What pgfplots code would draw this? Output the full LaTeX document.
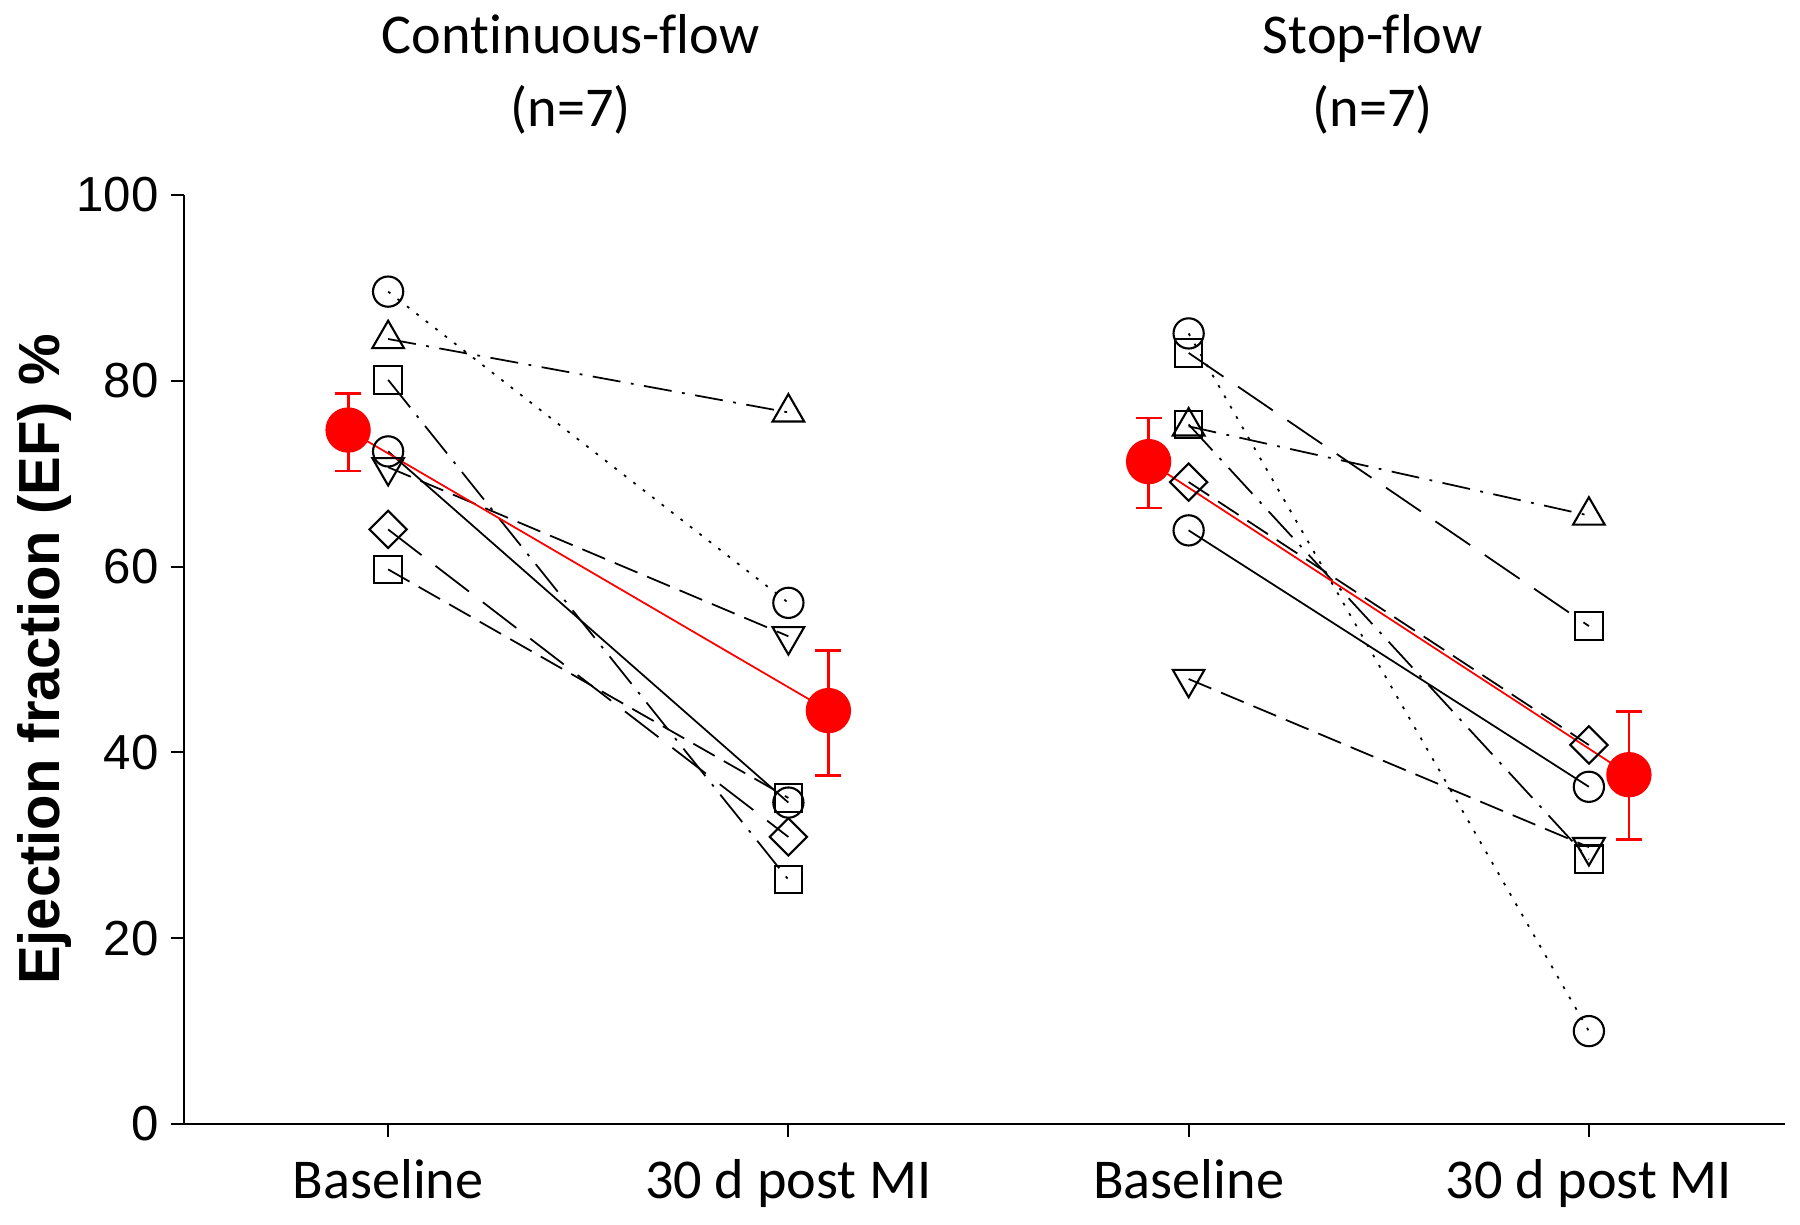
\documentclass[border=0pt]{standalone}
\usepackage{pgfplots}
\pgfplotsset{compat=1.18}
\usepackage{fontspec}
\setmainfont{Liberation Sans}
\newfontfamily\calib[Ligatures=NoCommon]{Carlito}

\pgfplotsset{
  ind/.style={black, line width=0.5pt},
  mo/.style={mark=o, mark size=4.3pt, mark options={solid, line width=0.6pt}},
  ms/.style={mark=square, mark size=3.9pt, mark options={solid, line width=0.6pt}},
  mt/.style={mark=triangle, mark size=5.2pt, mark options={solid, line width=0.6pt}},
  mv/.style={mark=triangle, mark size=5.2pt, mark options={solid, rotate=180, line width=0.6pt}},
  md/.style={mark=square, mark size=3.75pt, mark options={solid, rotate=45, line width=0.6pt}},
  ldot/.style={dash pattern=on 0.8pt off 2.6pt},
  ldd/.style={dash pattern=on 8pt off 3pt on 0.8pt off 3pt},
  ldd2/.style={dash pattern=on 10pt off 3pt on 0.8pt off 3pt},
  ldash/.style={dash pattern=on 7pt off 3pt},
  llong/.style={dash pattern=on 12pt off 5pt},
}

\begin{document}
\begin{tikzpicture}
\begin{axis}[
    scale only axis,
    width=16.01cm, height=9.29cm,
    xmin=0.49, xmax=4.49,
    ymin=0, ymax=100,
    axis x line*=bottom, axis y line*=left,
    axis line style={line width=0.8pt},
    every tick/.style={black, line width=0.6pt},
    tick align=outside,
    major tick length=0.13cm,
    xtick={1,2,3,4},
    xticklabels={Baseline,30 d post MI,Baseline,30 d post MI},
    xticklabel style={font=\calib\fontsize{16}{19}\selectfont, yshift=-0.1cm},
    ytick={0,20,40,60,80,100},
    yticklabel style={font=\fontsize{14}{16}\selectfont},
    /pgf/number format/assume math mode=true,
    ylabel={Ejection fraction (EF) \%},
    ylabel style={font=\bfseries\fontsize{16.5}{19}\selectfont,
                  at={(axis description cs:-0.087,0.5)}, anchor=center},
    clip=false,
]

% Continuous-flow, individual animals
\addplot[ind, ldot, mo]   coordinates {(1,89.6) (2,56.1)};
\addplot[ind, ldd, mt]    coordinates {(1,84.5) (2,76.6)};
\addplot[ind, ldd2, ms]   coordinates {(1,80.1) (2,26.3)};
\addplot[ind, solid, mo]  coordinates {(1,72.4) (2,34.6)};
\addplot[ind, ldash, mv]  coordinates {(1,70.7) (2,52.5)};
\addplot[ind, llong, md]  coordinates {(1,64.0) (2,30.9)};
\addplot[ind, ldash, ms]  coordinates {(1,59.7) (2,35.1)};

% Stop-flow, individual animals
\addplot[ind, ldot, mo]   coordinates {(3,85.1) (4,10.0)};
\addplot[ind, llong, ms]  coordinates {(3,83.0) (4,53.6)};
\addplot[ind, ldd, mt]    coordinates {(3,75.1) (4,65.5)};
\addplot[ind, ldd2, ms]   coordinates {(3,75.3) (4,28.5)};
\addplot[ind, ldash, md]  coordinates {(3,69.1) (4,40.8)};
\addplot[ind, solid, mo]  coordinates {(3,63.9) (4,36.3)};
\addplot[ind, ldash, mv]  coordinates {(3,47.9) (4,29.8)};

% group means with error bars
\addplot[red, line width=0.5pt, mark=*, mark size=6.2pt,
    error bars/.cd, y dir=both, y explicit,
    error bar style={red, line width=0.8pt},
    error mark options={red, line width=0.8pt, mark size=3.7pt, rotate=90}]
  coordinates {(0.9,74.7) += (0,3.9) -= (0,4.4)
               (2.1,44.5) += (0,6.5) -= (0,7.0)};
\addplot[red, line width=0.5pt, mark=*, mark size=6.2pt,
    error bars/.cd, y dir=both, y explicit,
    error bar style={red, line width=0.8pt},
    error mark options={red, line width=0.8pt, mark size=3.7pt, rotate=90}]
  coordinates {(2.9,71.3) += (0,4.7) -= (0,5.0)
               (4.1,37.6) += (0,6.8) -= (0,7.0)};

\node[font=\calib\fontsize{16}{19}\selectfont, anchor=base] at (axis cs:1.456,115.2) {Con\kern0pt tinuous-flow};
\node[font=\calib\fontsize{16}{19}\selectfont, anchor=base] at (axis cs:1.456,107.4) {(n=7)};
\node[font=\calib\fontsize{16}{19}\selectfont, anchor=base] at (axis cs:3.46,115.2) {Stop-flow};
\node[font=\calib\fontsize{16}{19}\selectfont, anchor=base] at (axis cs:3.46,107.4) {(n=7)};

\coordinate (BL) at (rel axis cs:0,0);
\coordinate (TR) at (rel axis cs:1,1);
\end{axis}
\pgfresetboundingbox
\path[use as bounding box] ([shift={(-1.84cm,-1.0cm)}]BL) rectangle ([shift={(0.15cm,1.95cm)}]TR);
\end{tikzpicture}
\end{document}
